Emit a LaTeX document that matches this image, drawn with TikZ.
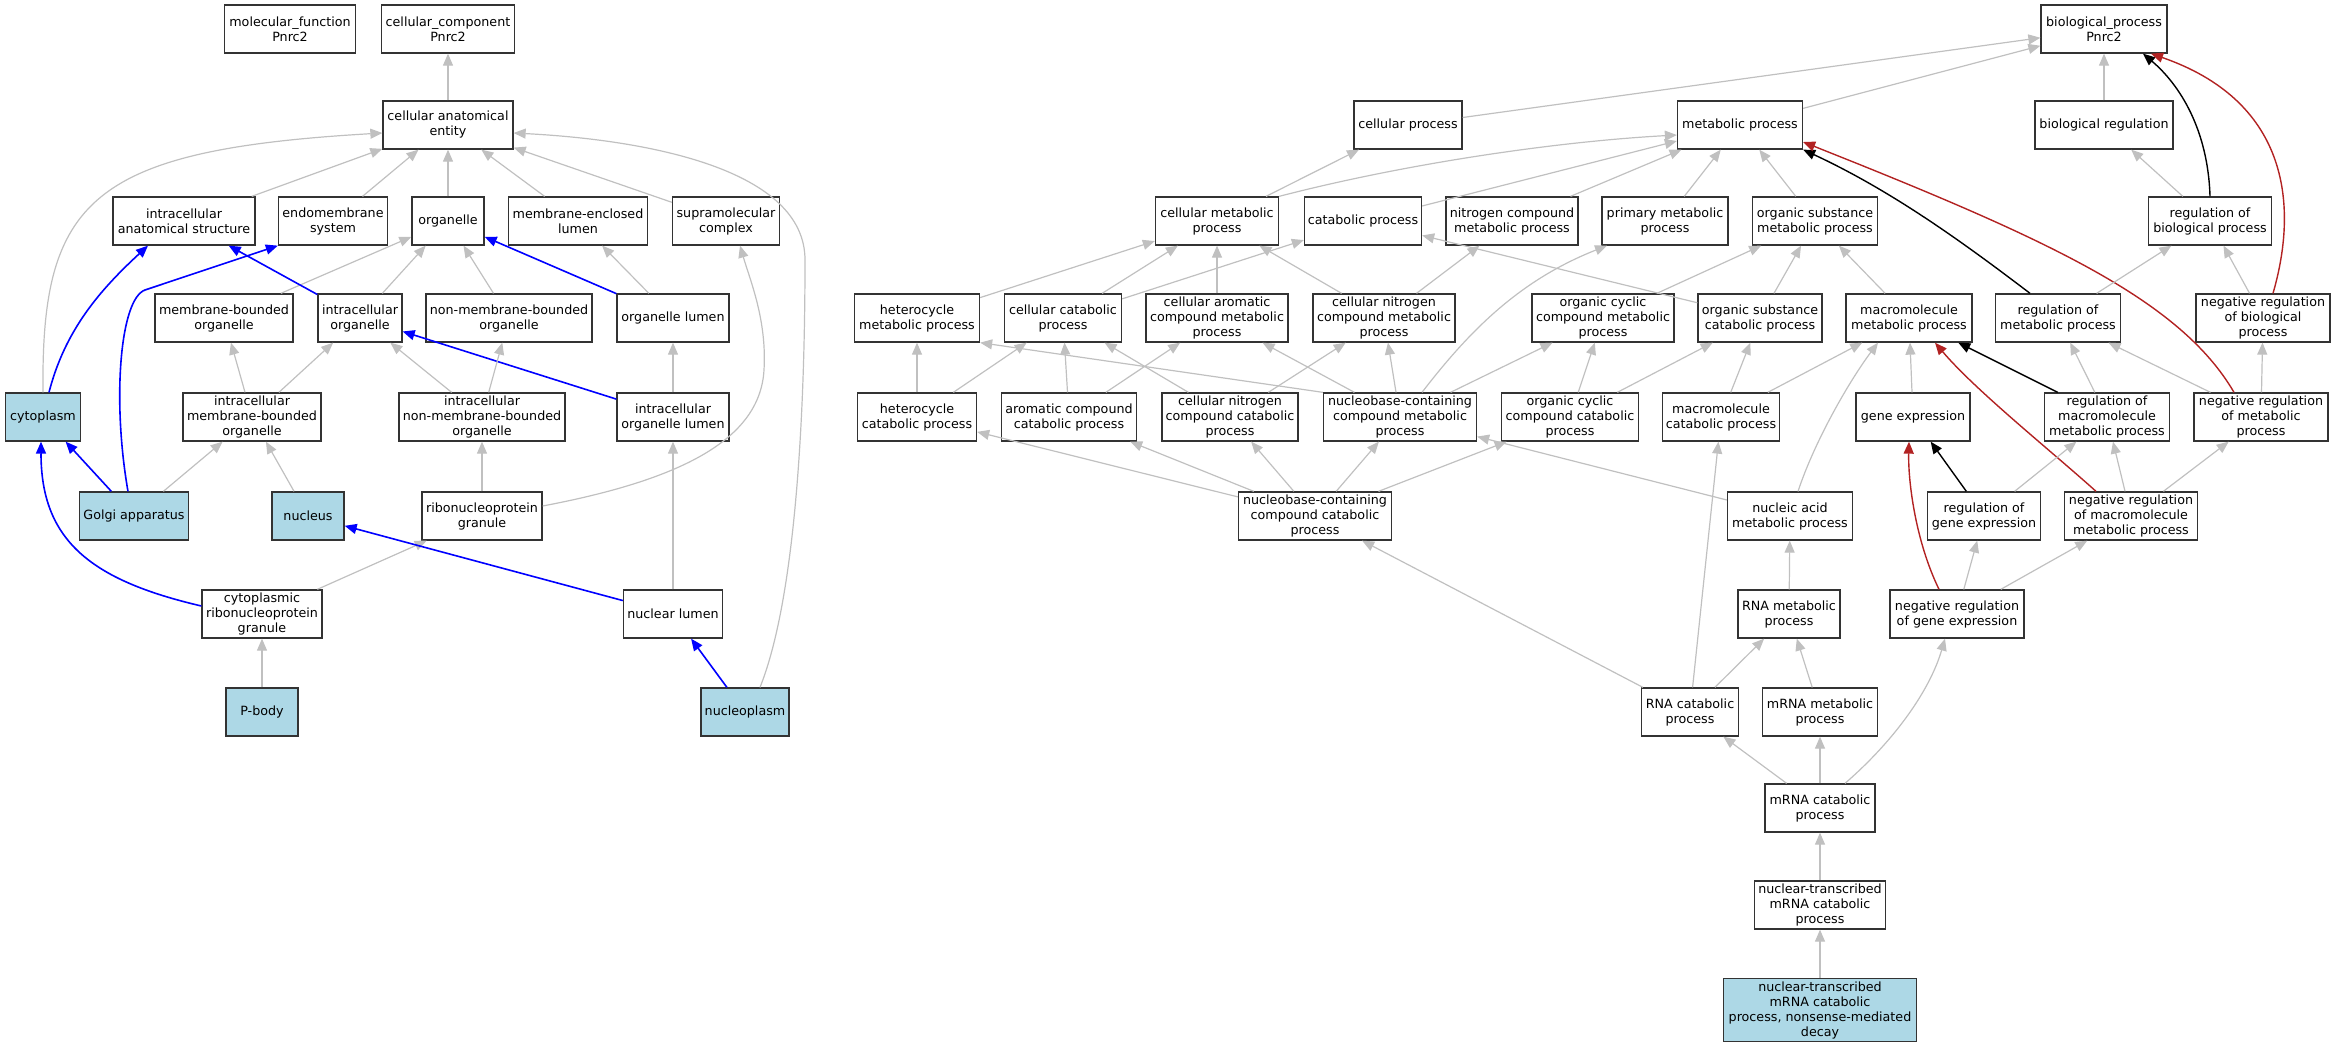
\documentclass[tikz,border=0pt]{standalone}
\usepackage{fontspec}
\setmainfont{DejaVu Sans}
\usetikzlibrary{arrows.meta}

\definecolor{isagray}{RGB}{192,192,192}
\definecolor{partblue}{RGB}{0,0,255}
\definecolor{negred}{RGB}{178,34,34}
\definecolor{hitblue}{RGB}{173,216,230}

\tikzset{
  goterm/.style={rectangle, draw=black!80, line width=1.3pt, fill=white, align=center,
    minimum height=48pt, inner xsep=0pt, inner ysep=0pt, font=\fontsize{12.7}{15}\selectfont},
  annot/.style={goterm, fill=hitblue},
  isa/.style={draw=isagray, line width=1.2pt, -{Triangle[length=12pt,width=10pt]}},
  partof/.style={isa, draw=partblue, line width=1.6pt},
  regulates/.style={isa, draw=black, line width=1.4pt},
  negregulates/.style={isa, draw=negred, line width=1.4pt}
}

\begin{document}
\begin{tikzpicture}[x=1pt, y=-1pt]
\useasboundingbox (0,0) rectangle (2335,1048);

% celicna komponenta
\node[goterm, minimum width=131pt] (mf) at (290,29) {molecular\_function\\Pnrc2};
\node[goterm, minimum width=133pt] (cc) at (448,29) {cellular\_component\\Pnrc2};
\node[goterm, minimum width=130pt] (cae) at (448,125) {cellular anatomical\\entity};
\node[goterm, minimum width=142pt] (ias) at (184,221) {intracellular\\anatomical structure};
\node[goterm, minimum width=109pt] (ems) at (333,221) {endomembrane\\system};
\node[goterm, minimum width=72pt] (org) at (448,221) {organelle};
\node[goterm, minimum width=139pt] (mel) at (578,221) {membrane-enclosed\\lumen};
\node[goterm, minimum width=107pt] (smc) at (726,221) {supramolecular\\complex};
\node[goterm, minimum width=138pt] (mbo) at (224,318) {membrane-bounded\\organelle};
\node[goterm, minimum width=84pt] (io) at (360,318) {intracellular\\organelle};
\node[goterm, minimum width=166pt] (nmbo) at (509,318) {non-membrane-bounded\\organelle};
\node[goterm, minimum width=112pt] (ol) at (673,318) {organelle lumen};
\node[annot, minimum width=75pt] (cyt) at (43,417) {cytoplasm};
\node[goterm, minimum width=138pt] (imbo) at (252,417) {intracellular\\membrane-bounded\\organelle};
\node[goterm, minimum width=166pt] (inmbo) at (482,417) {intracellular\\non-membrane-bounded\\organelle};
\node[goterm, minimum width=112pt] (iol) at (673,417) {intracellular\\organelle lumen};
\node[annot, minimum width=109pt] (golgi) at (134,516) {Golgi apparatus};
\node[annot, minimum width=72pt] (nuc) at (308,516) {nucleus};
\node[goterm, minimum width=120pt] (rnpg) at (482,516) {ribonucleoprotein\\granule};
\node[goterm, minimum width=120pt] (crnpg) at (262,614) {cytoplasmic\\ribonucleoprotein\\granule};
\node[goterm, minimum width=99pt] (nl) at (673,614) {nuclear lumen};
\node[annot, minimum width=72pt] (pbody) at (262,712) {P-body};
\node[annot, minimum width=88pt] (npl) at (745,712) {nucleoplasm};

% bioloski proces
\node[goterm, minimum width=126pt] (bp) at (2104,29) {biological\_process\\Pnrc2};
\node[goterm, minimum width=108pt] (cp) at (1408,125) {cellular process};
\node[goterm, minimum width=125pt] (mp) at (1740,125) {metabolic process};
\node[goterm, minimum width=138pt] (breg) at (2104,125) {biological regulation};
\node[goterm, minimum width=123pt] (cmp) at (1217,221) {cellular metabolic\\process};
\node[goterm, minimum width=117pt] (catp) at (1363,221) {catabolic process};
\node[goterm, minimum width=132pt] (ncmp) at (1512,221) {nitrogen compound\\metabolic process};
\node[goterm, minimum width=126pt] (pmp) at (1665,221) {primary metabolic\\process};
\node[goterm, minimum width=125pt] (osmp) at (1815,221) {organic substance\\metabolic process};
\node[goterm, minimum width=123pt] (rbp) at (2210,221) {regulation of\\biological process};
\node[goterm, minimum width=125pt] (hmp) at (917,318) {heterocycle\\metabolic process};
\node[goterm, minimum width=117pt] (ccp) at (1063,318) {cellular catabolic\\process};
\node[goterm, minimum width=142pt] (camp) at (1217,318) {cellular aromatic\\compound metabolic\\process};
\node[goterm, minimum width=142pt] (cnmp) at (1384,318) {cellular nitrogen\\compound metabolic\\process};
\node[goterm, minimum width=142pt] (occmp) at (1603,318) {organic cyclic\\compound metabolic\\process};
\node[goterm, minimum width=124pt] (oscp) at (1760,318) {organic substance\\catabolic process};
\node[goterm, minimum width=126pt] (mmp) at (1909,318) {macromolecule\\metabolic process};
\node[goterm, minimum width=125pt] (rmp) at (2058,318) {regulation of\\metabolic process};
\node[goterm, minimum width=134pt] (nrbp) at (2263,318) {negative regulation\\of biological\\process};
\node[goterm, minimum width=119pt] (hcp) at (917,417) {heterocycle\\catabolic process};
\node[goterm, minimum width=135pt] (accp) at (1069,417) {aromatic compound\\catabolic process};
\node[goterm, minimum width=136pt] (cnccp) at (1230,417) {cellular nitrogen\\compound catabolic\\process};
\node[goterm, minimum width=153pt] (nccmp) at (1400,417) {nucleobase-containing\\compound metabolic\\process};
\node[goterm, minimum width=137pt] (occp) at (1570,417) {organic cyclic\\compound catabolic\\process};
\node[goterm, minimum width=117pt] (mcp) at (1721,417) {macromolecule\\catabolic process};
\node[goterm, minimum width=114pt] (ge) at (1913,417) {gene expression};
\node[goterm, minimum width=125pt] (rmmp) at (2107,417) {regulation of\\macromolecule\\metabolic process};
\node[goterm, minimum width=134pt] (nrmp) at (2261,417) {negative regulation\\of metabolic\\process};
\node[goterm, minimum width=153pt] (ncccp) at (1315,516) {nucleobase-containing\\compound catabolic\\process};
\node[goterm, minimum width=125pt] (namp) at (1790,516) {nucleic acid\\metabolic process};
\node[goterm, minimum width=113pt] (rge) at (1984,516) {regulation of\\gene expression};
\node[goterm, minimum width=133pt] (nrmmp) at (2131,516) {negative regulation\\of macromolecule\\metabolic process};
\node[goterm, minimum width=102pt] (rmetp) at (1789,614) {RNA metabolic\\process};
\node[goterm, minimum width=134pt] (nrge) at (1957,614) {negative regulation\\of gene expression};
\node[goterm, minimum width=97pt] (rcp) at (1690,712) {RNA catabolic\\process};
\node[goterm, minimum width=115pt] (mrmp) at (1820,712) {mRNA metabolic\\process};
\node[goterm, minimum width=110pt] (mrcp) at (1820,808) {mRNA catabolic\\process};
\node[goterm, minimum width=131pt] (ntmcp) at (1820,905) {nuclear-transcribed\\mRNA catabolic\\process};
\node[annot, minimum width=193pt, minimum height=63pt] (nmd) at (1820,1010) {nuclear-transcribed\\mRNA catabolic\\process, nonsense-mediated\\decay};

% povezave - celicna komponenta
\draw[isa] (cae) -- (cc);
\draw[isa] (ias) -- (cae);
\draw[isa] (ems) -- (cae);
\draw[isa] (org) -- (cae);
\draw[isa] (mel) -- (cae);
\draw[isa] (smc) -- (cae);
\draw[isa] (cyt.north) .. controls (41,200) and (90,150) .. ([yshift=-8pt]cae.west);
\draw[isa] ([xshift=15pt]npl.north) .. controls (795,600) and (805,420) .. (805,260) .. controls (805,170) and (650,140) .. ([yshift=-8pt]cae.east);
\draw[isa] (mbo) -- (org);
\draw[isa] (io) -- (org);
\draw[isa] (nmbo) -- (org);
\draw[partof] (ol) -- (org);
\draw[isa] (ol) -- (mel);
\draw[partof] (io) -- (ias);
\draw[partof] (iol) -- (io);
\draw[isa] (iol) -- (ol);
\draw[isa] (imbo) -- (mbo);
\draw[isa] (imbo) -- (io);
\draw[isa] (inmbo) -- (io);
\draw[isa] (inmbo) -- (nmbo);
\draw[partof] ([xshift=6pt]cyt.north) .. controls (65,330) and (100,290) .. ([xshift=-36pt]ias.south);
\draw[partof] ([xshift=-6pt]golgi.north) .. controls (112,400) and (120,299) .. (145,290) -- (ems.south west);
\draw[partof] (golgi) -- (cyt);
\draw[isa] (golgi) -- (imbo);
\draw[isa] (nuc) -- (imbo);
\draw[isa] (rnpg) -- (inmbo);
\draw[isa] ([yshift=10pt]rnpg.east) .. controls (680,480) and (760,440) .. (764,370) .. controls (767,320) and (750,280) .. ([xshift=14pt]smc.south);
\draw[isa] (crnpg) -- (rnpg);
\draw[partof] ([yshift=8pt]crnpg.west) .. controls (90,580) and (41,540) .. ([xshift=-2pt]cyt.south);
\draw[partof] (nl) -- (nuc);
\draw[isa] (nl) -- (iol);
\draw[isa] (pbody) -- (crnpg);
\draw[partof] (npl) -- (nl);

% povezave - bioloski proces
\draw[isa] (cp) -- (bp);
\draw[isa] (mp) -- (bp);
\draw[isa] (breg) -- (bp);
\draw[regulates] (rbp.north) .. controls (2208,130) and (2180,85) .. ([xshift=39pt]bp.south);
\draw[negregulates] ([xshift=10pt]nrbp.north) .. controls (2300,200) and (2285,100) .. ([xshift=47pt]bp.south);
\draw[isa] (rbp) -- (breg);
\draw[isa] (nrbp) -- (rbp);
\draw[isa] (cmp) -- (cp);
\draw[isa] (cmp.north east) .. controls (1400,165) and (1550,142) .. ([yshift=-10pt]mp.west);
\draw[isa] (catp) -- (mp);
\draw[isa] (ncmp) -- (mp);
\draw[isa] (pmp) -- (mp);
\draw[isa] (osmp) -- (mp);
\draw[regulates] ([xshift=-28pt]rmp.north) .. controls (1960,240) and (1890,190) .. (mp.south east);
\draw[negregulates] ([xshift=-27pt]nrmp.north) .. controls (2180,300) and (2050,240) .. ([yshift=-17pt]mp.east);
\draw[isa] (occmp) -- (osmp);
\draw[isa] (oscp) -- (osmp);
\draw[isa] (mmp) -- (osmp);
\draw[isa] (oscp) -- (catp);
\draw[isa] (hmp) -- (cmp);
\draw[isa] (ccp) -- (cmp);
\draw[isa] (ccp) -- (catp);
\draw[isa] (camp) -- (cmp);
\draw[isa] (cnmp) -- (cmp);
\draw[isa] (cnmp) -- (ncmp);
\draw[isa] (hcp) -- (hmp);
\draw[isa] (hcp) -- (ccp);
\draw[isa] (accp) -- (ccp);
\draw[isa] (accp) -- (camp);
\draw[isa] (cnccp) -- (ccp);
\draw[isa] (cnccp) -- (cnmp);
\draw[isa] (nccmp.north west) -- (hmp.south east);
\draw[isa] (nccmp) -- (camp);
\draw[isa] (nccmp) -- (cnmp);
\draw[isa] ([xshift=22pt]nccmp.north) .. controls (1470,330) and (1520,280) .. ([xshift=-58pt]pmp.south);
\draw[isa] (nccmp) -- (occmp);
\draw[isa] (occp) -- (occmp);
\draw[isa] (occp) -- (oscp);
\draw[isa] (mcp) -- (oscp);
\draw[isa] (mcp) -- (mmp);
\draw[isa] (ge) -- (mmp);
\draw[isa] ([xshift=8pt]namp.north) .. controls (1815,440) and (1850,380) .. ([xshift=-31pt]mmp.south);
\draw[isa] (namp) -- (nccmp);
\draw[regulates] (rmmp) -- (mmp);
\draw[negregulates] ([xshift=-35pt]nrmmp.north) .. controls (2050,450) and (1975,390) .. ([xshift=26pt]mmp.south);
\draw[isa] (rmmp) -- (rmp);
\draw[isa] (nrmp) -- (rmp);
\draw[isa] (nrmp) -- (nrbp);
\draw[isa] (rmp) -- (rbp);
\draw[isa] (nrmmp) -- (rmmp);
\draw[isa] (nrmmp) -- (nrmp);
\draw[isa] (rge) -- (rmmp);
\draw[regulates] (rge) -- (ge);
\draw[negregulates] ([xshift=-18pt]nrge.north) .. controls (1915,540) and (1908,480) .. ([xshift=-4pt]ge.south);
\draw[isa] (nrge) -- (rge);
\draw[isa] (nrge) -- (nrmmp);
\draw[isa] ([xshift=25pt]mrcp.north) .. controls (1895,740) and (1930,690) .. ([xshift=-12pt]nrge.south);
\draw[isa] (rmetp) -- (namp);
\draw[isa] (rcp) -- (rmetp);
\draw[isa] (mrmp) -- (rmetp);
\draw[isa] (rcp) -- (mcp);
\draw[isa] (rcp) -- (ncccp);
\draw[isa] (mrcp) -- (rcp);
\draw[isa] (mrcp) -- (mrmp);
\draw[isa] (ntmcp) -- (mrcp);
\draw[isa] (nmd) -- (ntmcp);
\draw[isa] (ncccp) -- (hcp);
\draw[isa] (ncccp) -- (accp);
\draw[isa] (ncccp) -- (cnccp);
\draw[isa] (ncccp) -- (occp);
\draw[isa] (ncccp) -- (nccmp);
\end{tikzpicture}
\end{document}
